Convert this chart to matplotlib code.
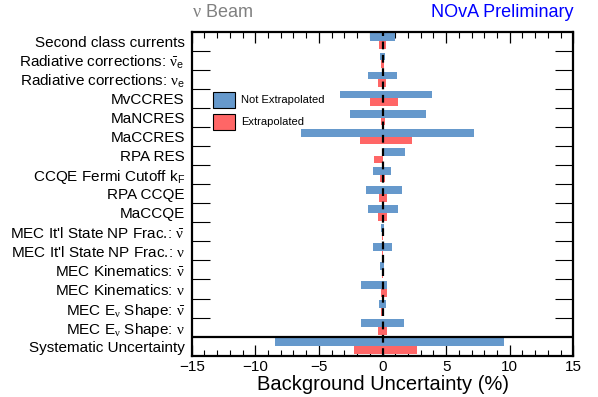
import numpy as np
import matplotlib
matplotlib.use('Agg')
import matplotlib.pyplot as plt
from matplotlib.patches import Patch
from matplotlib.ticker import MultipleLocator, FixedLocator

plt.rcParams['font.family'] = ['Liberation Sans', 'DejaVu Sans']
plt.rcParams['mathtext.fontset'] = 'custom'
plt.rcParams['mathtext.rm'] = 'Liberation Sans'
plt.rcParams['mathtext.it'] = 'Liberation Serif'   # upright serif nu like ROOT's #nu
plt.rcParams['mathtext.bf'] = 'Liberation Sans:bold'

# === data (percent shifts, low / high side) ===
labels = [
    'Second class currents',
    r'Radiative corrections: $\bar{\nu}_{\mathregular{e}}$',
    r'Radiative corrections: $\nu_{\mathregular{e}}$',
    'MvCCRES',
    'MaNCRES',
    'MaCCRES',
    'RPA RES',
    r'CCQE Fermi Cutoff k$_{\mathregular{F}}$',
    'RPA CCQE',
    'MaCCQE',
    r"MEC It'l State NP Frac.: $\bar{\nu}$",
    r"MEC It'l State NP Frac.: $\nu$",
    r'MEC Kinematics: $\bar{\nu}$',
    r'MEC Kinematics: $\nu$',
    r'MEC E$_{\nu}$ Shape: $\bar{\nu}$',
    r'MEC E$_{\nu}$ Shape: $\nu$',
    'Systematic Uncertainty',
]
noextrap_lo = [-1.00, -0.19, -1.18, -3.31, -2.55, -6.43, 0.00, -0.76, -1.26, -1.18,
               -0.10, -0.74, -0.16, -1.73, -0.29, -1.71, -8.43]
noextrap_hi = [1.02, 0.16, 1.15, 3.91, 3.39, 7.19, 1.78, 0.63, 1.57, 1.20,
               0.08, 0.73, 0.08, 0.39, 0.26, 1.70, 9.58]
extrap_lo = [-0.27, -0.10, -0.35, -1.00, -0.11, -1.76, -0.66, -0.19, -0.29, -0.37,
             -0.05, -0.05, -0.05, -0.08, -0.13, -0.35, -2.24]
extrap_hi = [0.26, 0.10, 0.31, 1.23, 0.16, 2.28, 0.00, 0.16, 0.36, 0.39,
             0.05, 0.05, 0.05, 0.34, 0.13, 0.34, 2.73]

blue = '#6699cc'
red = '#ff6666'

fig = plt.figure(figsize=(5.98, 3.97), dpi=100)
ax = fig.add_axes([0.3206, 0.104, 0.6381, 0.816])

y = np.arange(len(labels))
lo_b = np.array(noextrap_lo)
hi_b = np.array(noextrap_hi)
lo_r = np.array(extrap_lo)
hi_r = np.array(extrap_hi)

ax.barh(y - 0.205, hi_b - lo_b, left=lo_b, height=0.41, color=blue, zorder=2)
ax.barh(y + 0.205, hi_r - lo_r, left=lo_r, height=0.41, color=red, zorder=2)

ax.axvline(0, color='black', ls=(0, (3.5, 2.5)), lw=1.6, zorder=3)
ax.axhline(len(labels) - 1.5, color='black', lw=1.6, zorder=3)

ax.set_xlim(-15, 15)
ax.set_ylim(len(labels) - 0.5, -0.5)

# y labels at row centres, small boundary ticks between rows
ax.set_yticks(y)
ax.set_yticklabels(labels, fontsize=11)
ax.yaxis.set_minor_locator(FixedLocator(np.arange(0.5, len(labels) - 1.5, 1.0)))
ax.tick_params(axis='y', which='major', length=0, pad=5)
ax.tick_params(axis='y', which='minor', direction='in', length=13, width=0.8,
               left=True, right=True)

ax.xaxis.set_major_locator(MultipleLocator(5))
ax.xaxis.set_minor_locator(MultipleLocator(1))
ax.tick_params(axis='x', which='major', direction='in', length=8, width=0.9,
               top=True, bottom=True, labelsize=11, pad=3)
ax.tick_params(axis='x', which='minor', direction='in', length=4, width=0.8,
               top=True, bottom=True)

for s in ax.spines.values():
    s.set_linewidth(1.6)

ax.set_xlabel('Background Uncertainty (%)', fontsize=14.5, labelpad=1)

handles = [Patch(facecolor=blue, edgecolor='black', lw=0.8, label='Not Extrapolated'),
           Patch(facecolor=red, edgecolor='black', lw=0.8, label='Extrapolated')]
ax.legend(handles=handles, loc='upper left', bbox_to_anchor=(0.056, 0.815),
          frameon=False, fontsize=8, handlelength=2.0, handleheight=1.9,
          handletextpad=0.55, labelspacing=0.5, borderaxespad=0, borderpad=0)

fig.text(0.3206, 0.968, r'$\nu$ Beam', color='#808080', fontsize=13,
         ha='left', va='center')
fig.text(0.9587, 0.968, 'NOvA Preliminary', color='blue', fontsize=13,
         ha='right', va='center')

fig.savefig('out.png', dpi=100)
